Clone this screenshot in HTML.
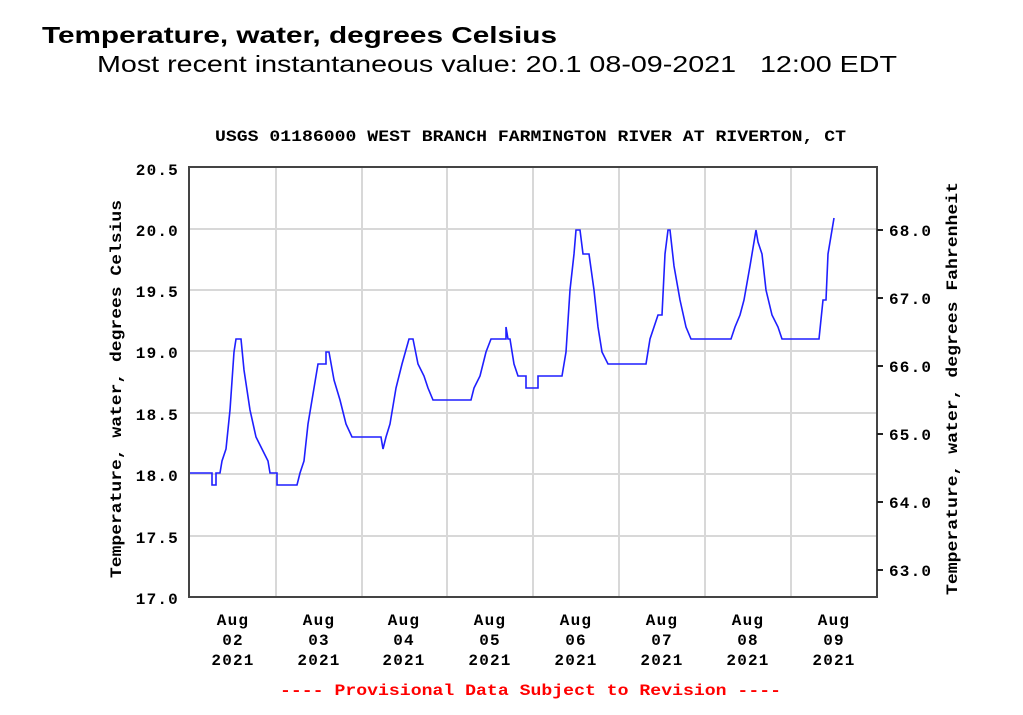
<!DOCTYPE html>
<html><head><meta charset="utf-8"><style>
html,body{margin:0;padding:0;background:#fff;width:1023px;height:715px;overflow:hidden}
</style></head><body>
<svg width="1023" height="715" xmlns="http://www.w3.org/2000/svg">
<text x="42" y="43" font-family="Liberation Sans, sans-serif" font-weight="bold" font-size="23" textLength="515" lengthAdjust="spacingAndGlyphs">Temperature, water, degrees Celsius</text>
<text x="97" y="72" font-family="Liberation Sans, sans-serif" font-size="23" textLength="800" lengthAdjust="spacingAndGlyphs">Most recent instantaneous value: 20.1 08-09-2021 &#160; 12:00 EDT</text>
<g font-family="Liberation Mono, DejaVu Sans Mono, monospace" font-weight="bold" font-size="16" letter-spacing="1.2">
<text x="215" y="141" textLength="631" lengthAdjust="spacingAndGlyphs" letter-spacing="0">USGS 01186000 WEST BRANCH FARMINGTON RIVER AT RIVERTON, CT</text>
<g stroke="#d8d8d8" stroke-width="2">
<line x1="276" y1="167" x2="276" y2="597"/><line x1="362" y1="167" x2="362" y2="597"/><line x1="447" y1="167" x2="447" y2="597"/><line x1="533" y1="167" x2="533" y2="597"/><line x1="619" y1="167" x2="619" y2="597"/><line x1="705" y1="167" x2="705" y2="597"/><line x1="791" y1="167" x2="791" y2="597"/>
<line x1="189" y1="229" x2="877" y2="229"/><line x1="189" y1="290" x2="877" y2="290"/><line x1="189" y1="351" x2="877" y2="351"/><line x1="189" y1="413" x2="877" y2="413"/><line x1="189" y1="474" x2="877" y2="474"/><line x1="189" y1="536" x2="877" y2="536"/>
</g>
<rect x="189" y="167" width="688" height="430" fill="none" stroke="#444" stroke-width="2"/>
<polyline fill="none" stroke="#1f1fff" stroke-width="1.6" points="190,473 212,473 212,485 216,485 216,473 220,473 222,461 226,449 230,410 234,352 236,339 241,339 244,370 250,410 256,437 262,449 268,461 270,473 277,473 277,485 297,485 300,473 304,461 308,424 314,388 318,364 326,364 326,352 329,352 334,380 340,400 346,424 352,437 381,437 383,449 386,437 390,424 396,388 402,364 409,339 413,339 418,364 424,376 428,388 433,400 471,400 474,388 480,376 486,352 491,339 506,339 506,327 508,339 510,339 514,364 518,376 526,376 526,388 538,388 538,376 562,376 566,352 570,290 574,254 576,230 580,230 583,254 589,254 594,290 598,327 602,352 608,364 646,364 650,339 654,327 658,315 662,315 665,254 668,230 670,230 674,266 680,300 686,327 691,339 731,339 735,327 740,315 744,300 750,266 756,230 758,242 762,254 766,290 772,315 778,327 782,339 819,339 823,300 826,300 828,254 832,230 834,218"/>
<g text-anchor="end">
<text x="179" y="175">20.5</text><text x="179" y="236">20.0</text><text x="179" y="297">19.5</text><text x="179" y="358">19.0</text><text x="179" y="420">18.5</text><text x="179" y="481">18.0</text><text x="179" y="543">17.5</text><text x="179" y="604">17.0</text>
</g>
<g stroke="#222" stroke-width="2">
<line x1="877" y1="230" x2="883" y2="230"/><line x1="877" y1="298" x2="883" y2="298"/><line x1="877" y1="366" x2="883" y2="366"/><line x1="877" y1="434" x2="883" y2="434"/><line x1="877" y1="502" x2="883" y2="502"/><line x1="877" y1="570" x2="883" y2="570"/>
</g>
<text x="889" y="236">68.0</text><text x="889" y="304">67.0</text><text x="889" y="372">66.0</text><text x="889" y="440">65.0</text><text x="889" y="508">64.0</text><text x="889" y="576">63.0</text>
<g text-anchor="middle">
<g transform="translate(233,0)"><text y="625">Aug</text><text y="645">02</text><text y="665">2021</text></g>
<g transform="translate(319,0)"><text y="625">Aug</text><text y="645">03</text><text y="665">2021</text></g>
<g transform="translate(404,0)"><text y="625">Aug</text><text y="645">04</text><text y="665">2021</text></g>
<g transform="translate(490,0)"><text y="625">Aug</text><text y="645">05</text><text y="665">2021</text></g>
<g transform="translate(576,0)"><text y="625">Aug</text><text y="645">06</text><text y="665">2021</text></g>
<g transform="translate(662,0)"><text y="625">Aug</text><text y="645">07</text><text y="665">2021</text></g>
<g transform="translate(748,0)"><text y="625">Aug</text><text y="645">08</text><text y="665">2021</text></g>
<g transform="translate(834,0)"><text y="625">Aug</text><text y="645">09</text><text y="665">2021</text></g>
</g>
<text x="280" y="695" fill="#ff0000" textLength="501" lengthAdjust="spacingAndGlyphs" letter-spacing="0">---- Provisional Data Subject to Revision ----</text>
<text transform="translate(121,578) rotate(-90)" textLength="378" lengthAdjust="spacingAndGlyphs" letter-spacing="0">Temperature, water, degrees Celsius</text>
<text transform="translate(957,595) rotate(-90)" textLength="413" lengthAdjust="spacingAndGlyphs" letter-spacing="0">Temperature, water, degrees Fahrenheit</text>
</g>
</svg>
</body></html>
